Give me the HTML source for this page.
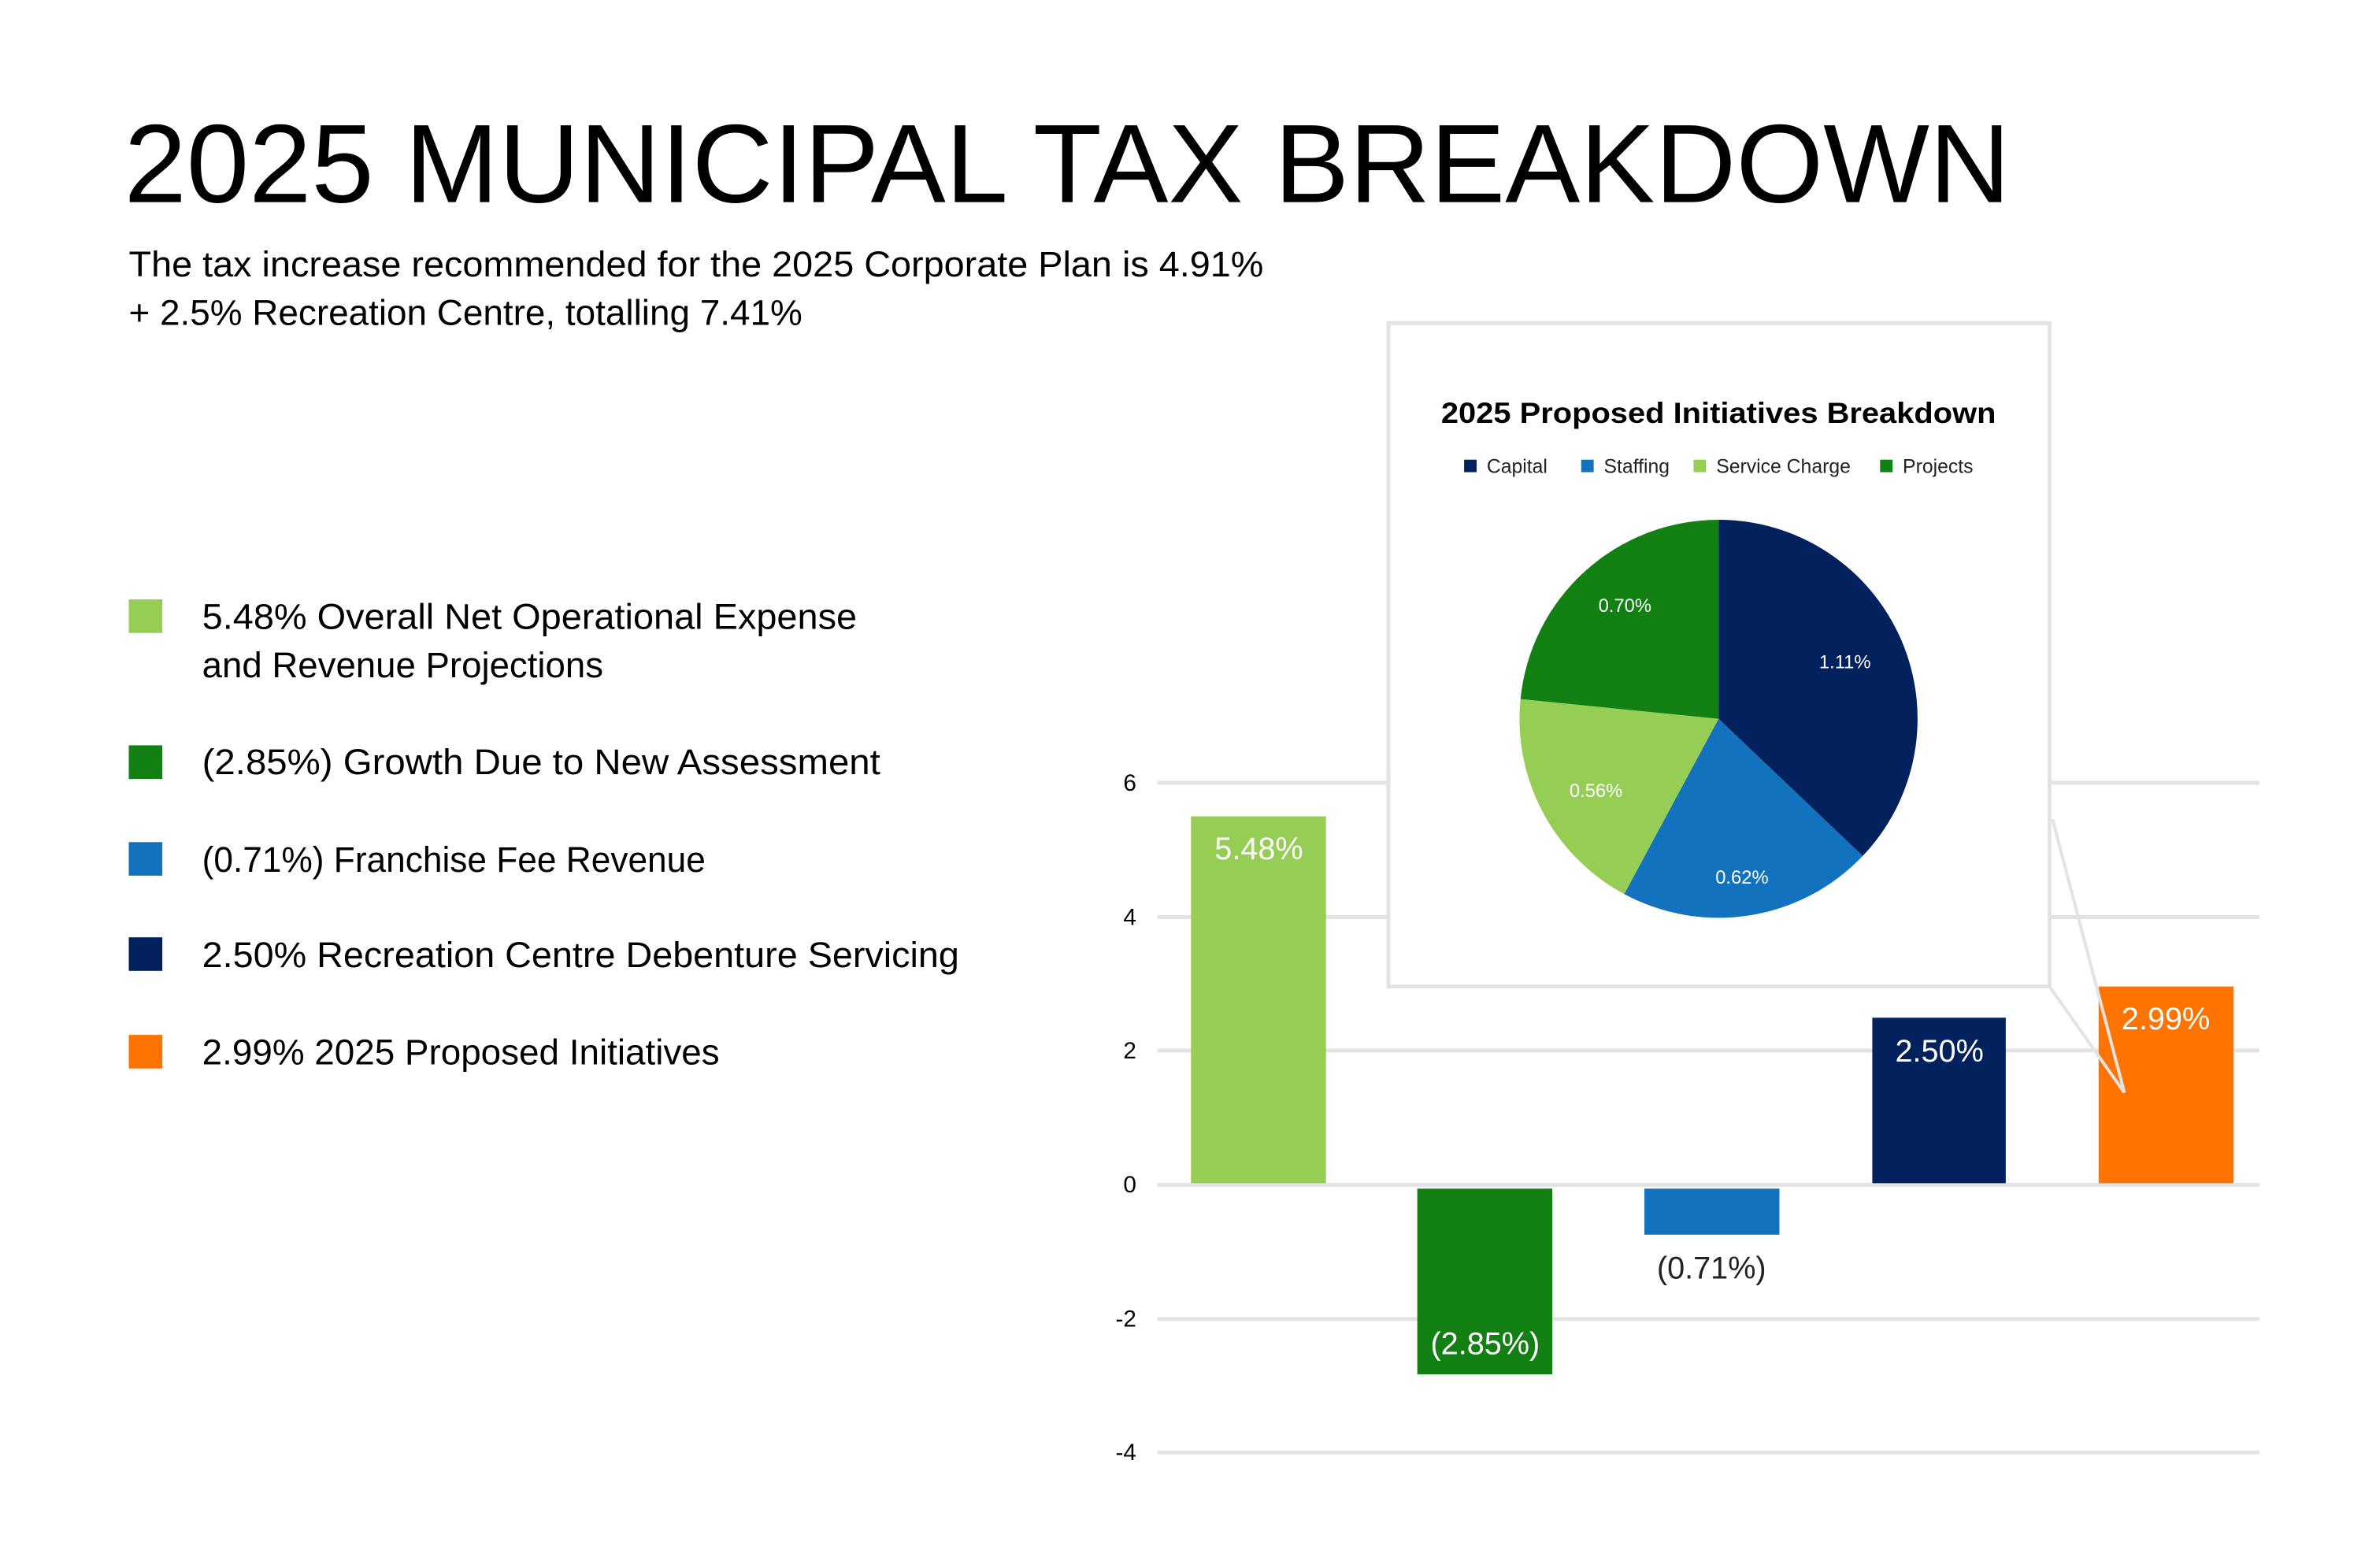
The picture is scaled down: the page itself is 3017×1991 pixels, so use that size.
<!DOCTYPE html>
<html><head><meta charset="utf-8"><style>html,body{margin:0;padding:0;background:#fff}svg{display:block}</style></head>
<body>
<svg width="3017" height="1991" viewBox="0 0 3017 1991" xmlns="http://www.w3.org/2000/svg" font-family="Liberation Sans, sans-serif">
<rect width="3017" height="1991" fill="#fff"/>
<g transform="scale(0.991)">
<text x="159" y="259" font-size="143" textLength="2417" lengthAdjust="spacingAndGlyphs" fill="#000">2025 MUNICIPAL TAX BREAKDOWN</text>
<text x="165" y="354" font-size="46" textLength="1454" lengthAdjust="spacingAndGlyphs">The tax increase recommended for the 2025 Corporate Plan is 4.91%</text>
<text x="165" y="416" font-size="46" textLength="863" lengthAdjust="spacingAndGlyphs">+ 2.5% Recreation Centre, totalling 7.41%</text>
<g font-size="46" fill="#000">
<rect x="165" y="768" width="43" height="43" fill="#95cd55"/>
<text x="259" y="806" textLength="839" lengthAdjust="spacingAndGlyphs">5.48% Overall Net Operational Expense</text>
<text x="259" y="868" textLength="514" lengthAdjust="spacingAndGlyphs">and Revenue Projections</text>
<rect x="165" y="955" width="43" height="43" fill="#138013"/>
<text x="259" y="992" textLength="869" lengthAdjust="spacingAndGlyphs">(2.85%) Growth Due to New Assessment</text>
<rect x="165" y="1079" width="43" height="43" fill="#1372be"/>
<text x="259" y="1117" textLength="645" lengthAdjust="spacingAndGlyphs">(0.71%) Franchise Fee Revenue</text>
<rect x="165" y="1201" width="43" height="43" fill="#03215c"/>
<text x="259" y="1239" textLength="970" lengthAdjust="spacingAndGlyphs">2.50% Recreation Centre Debenture Servicing</text>
<rect x="165" y="1326" width="43" height="43" fill="#ff7300"/>
<text x="259" y="1364" textLength="663" lengthAdjust="spacingAndGlyphs">2.99% 2025 Proposed Initiatives</text>
</g>
<g stroke="#e3e3e3" stroke-width="5">
<line x1="1483" y1="1003" x2="2895" y2="1003"/>
<line x1="1483" y1="1175" x2="2895" y2="1175"/>
<line x1="1483" y1="1346" x2="2895" y2="1346"/>
<line x1="1483" y1="1518" x2="2895" y2="1518"/>
<line x1="1483" y1="1690" x2="2895" y2="1690"/>
<line x1="1483" y1="1861" x2="2895" y2="1861"/>
</g>
<g font-size="30" text-anchor="end" fill="#000">
<text x="1456" y="1013">6</text><text x="1456" y="1185">4</text><text x="1456" y="1356">2</text>
<text x="1456" y="1528">0</text><text x="1456" y="1700">-2</text><text x="1456" y="1871">-4</text>
</g>
<rect x="1526" y="1046" width="173" height="470" fill="#95cd55"/>
<rect x="1816" y="1523" width="173" height="238" fill="#138013"/>
<rect x="2107" y="1523" width="173" height="59" fill="#1372be"/>
<rect x="2399" y="1304" width="171" height="212" fill="#03215c"/>
<rect x="2689" y="1264" width="173" height="252" fill="#ff7300"/>
<g font-size="40" text-anchor="middle" fill="#fff">
<text x="1613" y="1101">5.48%</text>
<text x="1903" y="1735">(2.85%)</text>
<text x="2193" y="1638" fill="#222">(0.71%)</text>
<text x="2485" y="1360">2.50%</text>
<text x="2775" y="1319">2.99%</text>
</g>
<rect x="1779" y="414" width="847" height="850" fill="#fff" stroke="#e3e3e3" stroke-width="5"/>
<polyline points="2630,1050 2722,1400 2626,1264" fill="none" stroke="#e3e3e3" stroke-width="4"/>
<text x="2202" y="542" font-size="37" font-weight="bold" text-anchor="middle" textLength="711" lengthAdjust="spacingAndGlyphs">2025 Proposed Initiatives Breakdown</text>
<g font-size="25" fill="#222">
<rect x="1876" y="589" width="16" height="16" fill="#03215c"/><text x="1905" y="606">Capital</text>
<rect x="2026" y="589" width="16" height="16" fill="#1372be"/><text x="2055" y="606">Staffing</text>
<rect x="2170" y="589" width="16" height="16" fill="#95cd55"/><text x="2199" y="606">Service Charge</text>
<rect x="2409" y="589" width="16" height="16" fill="#138013"/><text x="2438" y="606">Projects</text>
</g>
<path d="M2202,921 L2202,666 A255,255 0 0 1 2386.7,1096.8 Z" fill="#03215c"/>
<path d="M2202,921 L2386.7,1096.8 A255,255 0 0 1 2081.1,1145.5 Z" fill="#1372be"/>
<path d="M2202,921 L2081.1,1145.5 A255,255 0 0 1 1948.2,895.7 Z" fill="#95cd55"/>
<path d="M2202,921 L1948.2,895.7 A255,255 0 0 1 2202,666 Z" fill="#138013"/>
<g font-size="24" fill="#fff" text-anchor="middle">
<text x="2364" y="856">1.11%</text>
<text x="2232" y="1132">0.62%</text>
<text x="2045" y="1021">0.56%</text>
<text x="2082" y="784">0.70%</text>
</g>
</g>
</svg>
</body></html>
